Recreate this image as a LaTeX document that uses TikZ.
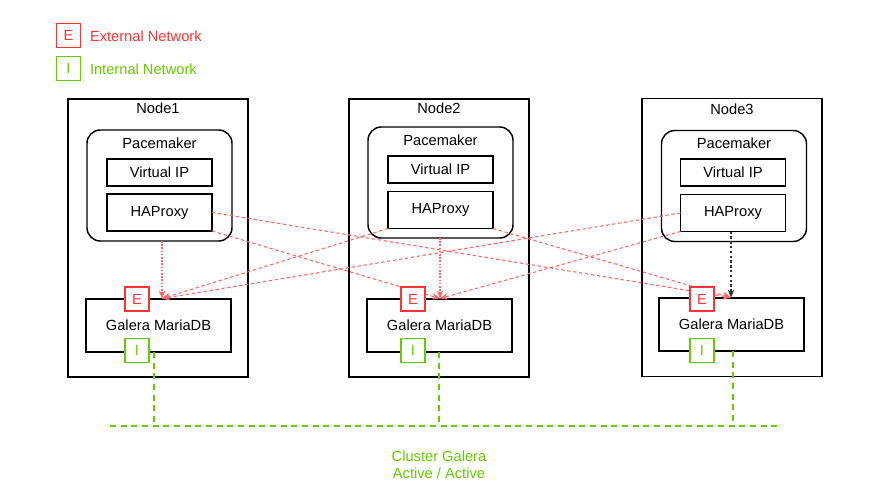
\documentclass[tikz,border=0pt]{standalone}
\usepackage{fontspec}
\setmainfont{Liberation Sans}
\usetikzlibrary{arrows.meta,calc}
\definecolor{ered}{HTML}{FF3333}
\definecolor{igreen}{HTML}{66CC00}
\definecolor{lred}{HTML}{FF6666}
\begin{document}
\begin{tikzpicture}[x=0.75pt,y=-0.75pt,
  every node/.style={font=\fontsize{11}{13}\selectfont, inner sep=0pt, outer sep=0pt},
  nodebox/.style={draw=black, line width=1.1pt, fill=white, minimum width=135pt, minimum height=208.5pt},
  pacebox/.style={draw=black, line width=1.1pt, rounded corners=10pt, fill=white, minimum width=108.75pt, minimum height=83.25pt},
  vipbox/.style={draw=black, line width=1.1pt, fill=white, minimum width=78.75pt, minimum height=20.25pt},
  habox/.style={draw=black, line width=1.1pt, fill=white, minimum width=78.75pt, minimum height=27.75pt},
  galbox/.style={draw=black, line width=1.1pt, fill=white, minimum width=108.75pt, minimum height=39.75pt},
  ebox/.style={draw=ered, line width=1.3pt, fill=white, text=ered, minimum width=18pt, minimum height=18pt},
  ibox/.style={draw=igreen, line width=1.3pt, fill=white, text=igreen, minimum width=18pt, minimum height=18pt},
  extlink/.style={draw=lred, line width=0.8pt, dash pattern=on 2.5pt off 2pt, -{Stealth[length=6pt,width=5pt]}},
  locallink/.style={draw=lred, line width=0.8pt, dash pattern=on 1.2pt off 1.2pt, -{Stealth[length=6pt,width=5pt]}},
  blacklink/.style={draw=black!80, line width=0.8pt, dash pattern=on 1.8pt off 1.8pt, -{Stealth[length=6pt,width=5pt]}},
  intlink/.style={draw=igreen, line width=1.4pt, dash pattern=on 4.5pt off 3.5pt}
]
\useasboundingbox (0,0) rectangle (880,502);

% legend
\node[ebox] (le) at (68.5,35.5) {E};
\node[ibox] (li) at (68.5,68.5) {I};
\node[anchor=west, text=ered] (let) at (90,36) {External Network};
\node[anchor=west, text=igreen] (lit) at (90,69) {Internal Network};

% outer node boxes
\node[nodebox] (n1) at (158,238) {};
\node[nodebox] (n2) at (439,238) {};
\node[nodebox] (n3) at (732,237.5) {};
\node (n1l) at (158,108) {Node1};
\node (n2l) at (439,108) {Node2};
\node (n3l) at (732,109) {Node3};

% pacemaker
\node[pacebox] (p1) at (159.5,185.5) {};
\node[pacebox] (p2) at (440.5,182.5) {};
\node[pacebox] (p3) at (734,186) {};
\node (p1l) at (159.5,143) {Pacemaker};
\node (p2l) at (440.5,140) {Pacemaker};
\node (p3l) at (734,143) {Pacemaker};

% virtual ip
\node[vipbox] (v1) at (159.5,172.5) {Virtual IP};
\node[vipbox] (v2) at (440.5,169.5) {Virtual IP};
\node[vipbox] (v3) at (733,172.5) {Virtual IP};

% haproxy
\node[habox] (h1) at (159.5,212.5) {HAProxy};
\node[habox] (h2) at (440.5,210) {HAProxy};
\node[habox] (h3) at (733,213) {HAProxy};

% galera
\node[galbox] (g1) at (158.5,325.5) {Galera MariaDB};
\node[galbox] (g2) at (439.5,325.5) {Galera MariaDB};
\node[galbox] (g3) at (731.5,324.5) {Galera MariaDB};

% arrow end points on Galera tops
\coordinate (a1) at (162,298.5);
\coordinate (a2) at (440,298.5);
\coordinate (a3) at (731,297.5);

% external links
\draw[locallink] (p1.south -| a1) -- (a1);
\draw[locallink] (p2.south -| a2) -- (a2);
\draw[blacklink] (h3.south -| a3) -- (a3);
\draw[extlink] (h1.east) -- (a3);
\draw[extlink] (h1.south east) -- (a2);
\draw[extlink] (h2.south west) -- (a1);
\draw[extlink] (h2.south east) -- (a3);
\draw[extlink] (h3.west) -- (a1);
\draw[extlink] (h3.south west) -- (a2);

% E and I ports
\node[ebox] (e1) at (137,299) {E};
\node[ebox] (e2) at (413,299) {E};
\node[ebox] (e3) at (702,299) {E};
\node[ibox] (i1) at (137,350.5) {I};
\node[ibox] (i2) at (413,350.5) {I};
\node[ibox] (i3) at (702,350.5) {I};

% internal network
\coordinate (c1) at (154,426);
\coordinate (c2) at (439,426);
\coordinate (c3) at (733,426);
\coordinate (bl) at (110,426);
\coordinate (br) at (778,426);
\draw[intlink] (bl) -- (br);
\draw[intlink] (g1.south -| c1) -- (c1);
\draw[intlink] (g2.south -| c2) -- (c2);
\draw[intlink] (g3.south -| c3) -- (c3);

\node[text=igreen, align=center, font=\fontsize{11}{12.75}\selectfont] (cl) at (439,465) {Cluster Galera\\Active / Active};
\end{tikzpicture}
\end{document}
